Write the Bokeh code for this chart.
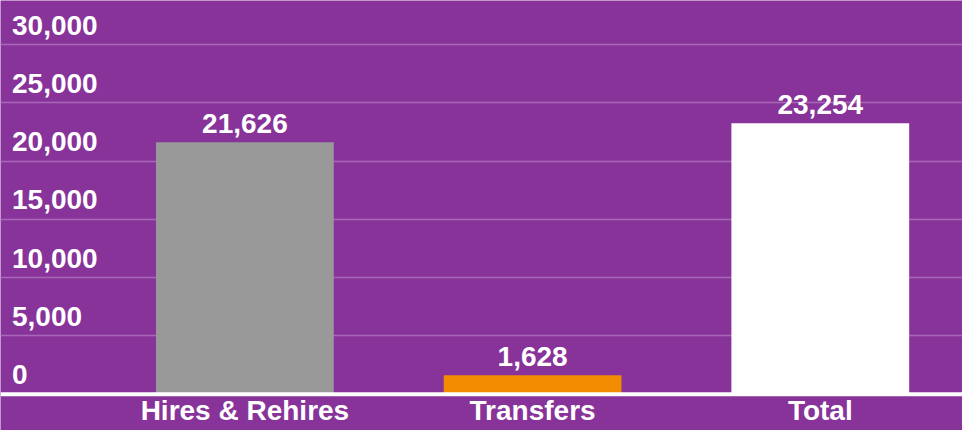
from bokeh.plotting import figure
from bokeh.models import ColumnDataSource, Range1d, FixedTicker, Span
from bokeh.core.properties import value
from bokeh.embed import file_html
from bokeh.resources import INLINE

categories = ["Hires & Rehires", "Transfers", "Total"]
counts = [21626, 1628, 23254]
count_labels = ["21,626", "1,628", "23,254"]
bar_colors = ["#999999", "#F28C00", "#FFFFFF"]
y_ticks = [0, 5000, 10000, 15000, 20000, 25000, 30000]
y_tick_labels = ["0", "5,000", "10,000", "15,000", "20,000", "25,000", "30,000"]

BG = "#873399"
GRID = "#A668B6"
FONT = value("Liberation Sans")
X_START, X_END = -0.8495, 2.4943

x_pos = list(range(len(categories)))

p = figure(width=962, height=430, output_backend="svg", toolbar_location=None,
           x_range=Range1d(X_START, X_END), y_range=Range1d(-3105, 33774),
           min_border_left=0, min_border_right=0, min_border_top=0, min_border_bottom=0)
p.background_fill_color = BG
p.border_fill_color = BG
p.outline_line_color = None
p.axis.visible = False
p.xgrid.visible = False
p.ygrid.ticker = FixedTicker(ticks=y_ticks[1:])
p.ygrid.grid_line_color = GRID
p.ygrid.grid_line_width = 1.5

bars = ColumnDataSource(dict(x=x_pos, top=counts, color=bar_colors,
                             label=count_labels, cat=categories,
                             zero=[0] * len(categories)))
p.vbar(x="x", top="top", bottom=0, width=0.618, color="color", line_color=None, source=bars)

p.add_layout(Span(location=0, dimension="width", line_color="white", line_width=4))

# value labels above bars
p.text(x="x", y="top", text="label", source=bars, text_font=FONT, text_font_style="bold",
       text_font_size="28px", text_color="white", text_align="center",
       text_baseline="alphabetic", y_offset=-19)

# category labels below axis
p.text(x="x", y="zero", text="cat", source=bars, text_font=FONT, text_font_style="bold",
       text_font_size="28px", text_color="white", text_align="center",
       text_baseline="alphabetic", y_offset=16)

# y tick labels above gridlines
ticks_src = ColumnDataSource(dict(y=y_ticks, label=y_tick_labels,
                                  x=[X_START] * len(y_ticks)))
p.text(x="x", y="y", text="label", source=ticks_src, text_font=FONT, text_font_style="bold",
       text_font_size="28px", text_color="white", text_align="left",
       text_baseline="alphabetic", x_offset=11.5, y_offset=-19.5)

html = file_html(p, INLINE)
html = html.replace("<body>", '<body style="background-color:%s;">' % BG, 1)
open("out.html", "w").write(html)
